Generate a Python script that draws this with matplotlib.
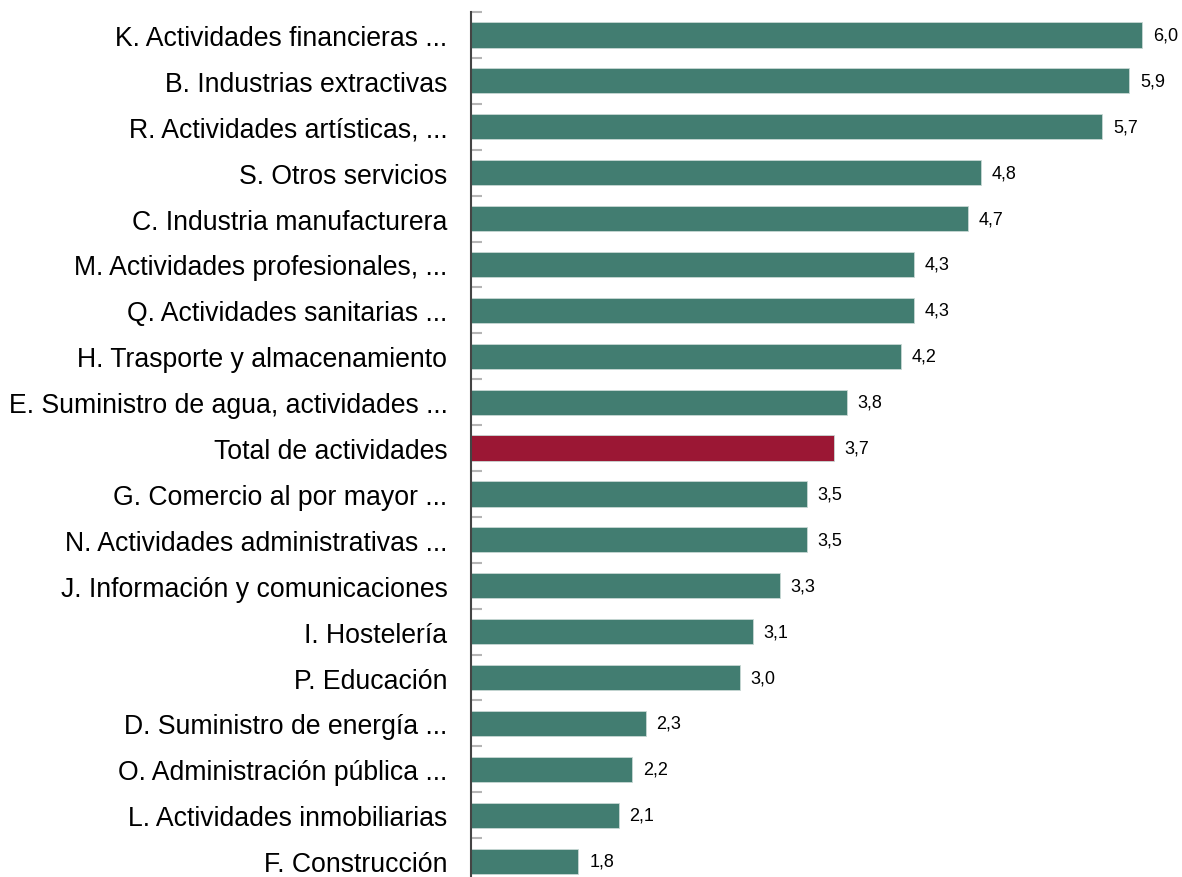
import matplotlib
matplotlib.use("Agg")
import matplotlib.pyplot as plt
from matplotlib.ticker import FixedLocator

categories = [
    "K. Actividades financieras ...",
    "B. Industrias extractivas",
    "R. Actividades artísticas, ...",
    "S. Otros servicios",
    "C. Industria manufacturera",
    "M. Actividades profesionales, ...",
    "Q. Actividades sanitarias ...",
    "H. Trasporte y almacenamiento",
    "E. Suministro de agua, actividades ...",
    "Total de actividades",
    "G. Comercio al por mayor ...",
    "N. Actividades administrativas ...",
    "J. Información y comunicaciones",
    "I. Hostelería",
    "P. Educación",
    "D. Suministro de energía ...",
    "O. Administración pública ...",
    "L. Actividades inmobiliarias",
    "F. Construcción",
]
values = [6.0, 5.9, 5.7, 4.8, 4.7, 4.3, 4.3, 4.2, 3.8, 3.7, 3.5, 3.5, 3.3, 3.1, 3.0, 2.3, 2.2, 2.1, 1.8]
highlight = "Total de actividades"

plt.rcParams['font.family'] = ['Liberation Sans', 'DejaVu Sans']

W, H = 1182, 878
fig = plt.figure(figsize=(W / 100, H / 100), dpi=100)
left = 471
top_px, bot_px = 13, 13 + 19 * 45.9
ax = fig.add_axes([left / W, 1 - bot_px / H, (1182 - left) / W, (bot_px - top_px) / H])

teal = "#427d71"
red = "#9b1734"
colors = [red if c == highlight else teal for c in categories]
ypos = list(range(len(categories)))
ax.barh(ypos, [v - 1.0 for v in values], left=1.0, height=0.55, color=colors,
        edgecolor="#c8d8d4", linewidth=0.6)

x0 = 1.0
x1 = x0 + (1182 - left) / 134.3
ax.set_xlim(x0, x1)
ax.set_ylim(len(categories) - 0.5, -0.5)

for y, v in zip(ypos, values):
    ax.text(v + 0.08, y, f"{v:.1f}".replace(".", ","), va="center", ha="left",
            fontsize=13, color="#000000")

ax.set_yticks(ypos)
ax.set_yticklabels(categories, fontsize=19.2, color="#000000")
ax.tick_params(axis="y", which="major", length=0, pad=17)
ax.yaxis.set_minor_locator(FixedLocator([i - 0.5 for i in range(len(categories))]))
ax.tick_params(axis="y", which="minor", direction="in", length=8, width=1.5, color="#b5b5b5")
ax.set_xticks([])

for s in ["top", "right", "bottom"]:
    ax.spines[s].set_visible(False)
ax.spines["left"].set_color("#444444")
ax.spines["left"].set_linewidth(1.5)

fig.savefig("out.png", dpi=100)
